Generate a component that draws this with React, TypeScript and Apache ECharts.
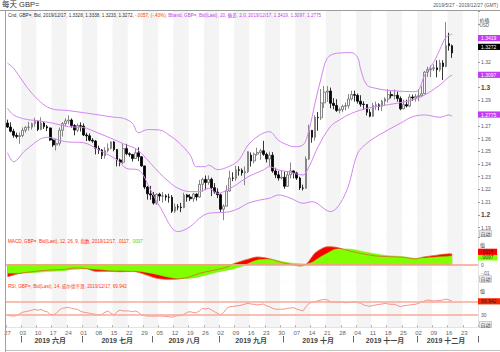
import React, { useEffect, useRef } from 'react';
import * as echarts from 'echarts';

const FAM = "'Liberation Sans', 'Noto Sans CJK SC', sans-serif";

// trading days 2019-05-27 .. 2019-12-27 (weekdays)
const categories: string[] = (() => {
  const out: string[] = [];
  for (let d = Date.UTC(2019, 4, 27); out.length < 155; d += 86400000) {
    const dt = new Date(d);
    const wd = dt.getUTCDay();
    if (wd === 0 || wd === 6) continue;
    out.push(dt.toISOString().slice(0, 10));
  }
  return out;
})();

const monthStartIdx = [5, 25, 48, 70, 91, 114, 135];
const monthLabelIdx = [14, 36, 58, 80, 102, 124, 144];
const monthLabels = ['2019 六月', '2019 七月', '2019 八月', '2019 九月', '2019 十月', '2019 十一月', '2019 十二月'];
// price tick labels hidden under the value boxes in the reference
const hiddenPriceTicks = [128, 131, 133, 134];

// [open, high, low, close]
const ohlc: number[][] = [
  [1.2722, 1.2748, 1.2683, 1.2690], [1.2690, 1.2727, 1.2649, 1.2657], [1.2657, 1.2676, 1.2607, 1.2625], [1.2625, 1.2646, 1.2600, 1.2616], [1.2616, 1.2648, 1.2558, 1.2623],
  [1.2623, 1.2687, 1.2610, 1.2665], [1.2665, 1.2697, 1.2646, 1.2688], [1.2688, 1.2731, 1.2662, 1.2689], [1.2689, 1.2725, 1.2670, 1.2718], [1.2718, 1.2763, 1.2693, 1.2735],
  [1.2735, 1.2736, 1.2658, 1.2671], [1.2671, 1.2767, 1.2665, 1.2722], [1.2722, 1.2730, 1.2675, 1.2693], [1.2693, 1.2707, 1.2658, 1.2683], [1.2683, 1.2687, 1.2582, 1.2588],
  [1.2588, 1.2601, 1.2534, 1.2550], [1.2550, 1.2599, 1.2506, 1.2562], [1.2562, 1.2686, 1.2542, 1.2665], [1.2665, 1.2728, 1.2615, 1.2717], [1.2717, 1.2759, 1.2695, 1.2738],
  [1.2738, 1.2783, 1.2711, 1.2745], [1.2745, 1.2758, 1.2685, 1.2702], [1.2702, 1.2713, 1.2625, 1.2666], [1.2666, 1.2718, 1.2650, 1.2701], [1.2701, 1.2727, 1.2655, 1.2697],
  [1.2697, 1.2718, 1.2620, 1.2628], [1.2628, 1.2646, 1.2580, 1.2621], [1.2621, 1.2640, 1.2578, 1.2587], [1.2587, 1.2603, 1.2566, 1.2580], [1.2580, 1.2588, 1.2475, 1.2524],
  [1.2524, 1.2544, 1.2479, 1.2510], [1.2510, 1.2518, 1.2439, 1.2466], [1.2466, 1.2532, 1.2442, 1.2505], [1.2505, 1.2561, 1.2491, 1.2523], [1.2523, 1.2578, 1.2514, 1.2573],
  [1.2573, 1.2580, 1.2500, 1.2514], [1.2514, 1.2517, 1.2381, 1.2432], [1.2432, 1.2443, 1.2382, 1.2414], [1.2414, 1.2559, 1.2399, 1.2521], [1.2521, 1.2558, 1.2469, 1.2481],
  [1.2481, 1.2492, 1.2457, 1.2475], [1.2475, 1.2476, 1.2420, 1.2443], [1.2443, 1.2520, 1.2440, 1.2488], [1.2488, 1.2531, 1.2422, 1.2457], [1.2457, 1.2461, 1.2378, 1.2385],
  [1.2385, 1.2386, 1.2203, 1.2219], [1.2219, 1.2228, 1.2120, 1.2166], [1.2166, 1.2228, 1.2119, 1.2157], [1.2157, 1.2181, 1.2081, 1.2093], [1.2093, 1.2170, 1.2080, 1.2163],
  [1.2163, 1.2174, 1.2111, 1.2148], [1.2148, 1.2181, 1.2097, 1.2150], [1.2150, 1.2162, 1.2112, 1.2141], [1.2141, 1.2167, 1.2097, 1.2139], [1.2139, 1.2156, 1.2015, 1.2030],
  [1.2030, 1.2090, 1.2015, 1.2064], [1.2064, 1.2085, 1.2037, 1.2062], [1.2062, 1.2095, 1.2022, 1.2058], [1.2058, 1.2174, 1.2053, 1.2156], [1.2156, 1.2165, 1.2105, 1.2141],
  [1.2141, 1.2164, 1.2110, 1.2127], [1.2127, 1.2174, 1.2102, 1.2164], [1.2164, 1.2170, 1.2113, 1.2141], [1.2141, 1.2274, 1.2135, 1.2240], [1.2240, 1.2292, 1.2183, 1.2279],
  [1.2279, 1.2310, 1.2195, 1.2255], [1.2255, 1.2310, 1.2237, 1.2280], [1.2280, 1.2293, 1.2148, 1.2214], [1.2214, 1.2250, 1.2166, 1.2180], [1.2180, 1.2209, 1.2132, 1.2159],
  [1.2159, 1.2168, 1.2024, 1.2045], [1.2045, 1.2084, 1.1959, 1.2069], [1.2069, 1.2232, 1.2065, 1.2188], [1.2188, 1.2348, 1.2182, 1.2290], [1.2290, 1.2335, 1.2265, 1.2288],
  [1.2288, 1.2385, 1.2268, 1.2355], [1.2355, 1.2382, 1.2309, 1.2350], [1.2350, 1.2365, 1.2308, 1.2330], [1.2330, 1.2381, 1.2234, 1.2340], [1.2340, 1.2500, 1.2329, 1.2496],
  [1.2470, 1.2491, 1.2380, 1.2424], [1.2424, 1.2490, 1.2404, 1.2477], [1.2477, 1.2528, 1.2465, 1.2490], [1.2490, 1.2519, 1.2433, 1.2504], [1.2504, 1.2582, 1.2464, 1.2476],
  [1.2476, 1.2490, 1.2412, 1.2440], [1.2440, 1.2497, 1.2381, 1.2469], [1.2469, 1.2493, 1.2331, 1.2345], [1.2345, 1.2370, 1.2289, 1.2315], [1.2315, 1.2345, 1.2270, 1.2290],
  [1.2290, 1.2350, 1.2280, 1.2296], [1.2296, 1.2340, 1.2206, 1.2225], [1.2225, 1.2343, 1.2220, 1.2315], [1.2315, 1.2412, 1.2287, 1.2346], [1.2346, 1.2350, 1.2286, 1.2330],
  [1.2330, 1.2339, 1.2275, 1.2290], [1.2290, 1.2300, 1.2196, 1.2212], [1.2212, 1.2238, 1.2192, 1.2210], [1.2210, 1.2460, 1.2205, 1.2440], [1.2440, 1.2709, 1.2431, 1.2665],
  [1.2665, 1.2667, 1.2567, 1.2610], [1.2610, 1.2783, 1.2583, 1.2766], [1.2766, 1.2808, 1.2661, 1.2763], [1.2763, 1.2988, 1.2745, 1.2880], [1.2880, 1.3013, 1.2840, 1.2965],
  [1.2965, 1.3012, 1.2887, 1.2973], [1.2973, 1.3000, 1.2837, 1.2877], [1.2877, 1.2917, 1.2829, 1.2860], [1.2860, 1.2909, 1.2809, 1.2820], [1.2820, 1.2844, 1.2798, 1.2828],
  [1.2828, 1.2866, 1.2806, 1.2853], [1.2853, 1.2883, 1.2820, 1.2858], [1.2858, 1.2949, 1.2836, 1.2910], [1.2910, 1.2976, 1.2898, 1.2945], [1.2945, 1.2976, 1.2890, 1.2939],
  [1.2939, 1.2953, 1.2875, 1.2893], [1.2893, 1.2940, 1.2850, 1.2870], [1.2870, 1.2892, 1.2824, 1.2867], [1.2867, 1.2870, 1.2781, 1.2806], [1.2806, 1.2831, 1.2767, 1.2775],
  [1.2775, 1.2880, 1.2770, 1.2860], [1.2860, 1.2890, 1.2825, 1.2865], [1.2865, 1.2877, 1.2820, 1.2852], [1.2852, 1.2904, 1.2815, 1.2893], [1.2893, 1.2924, 1.2857, 1.2910],
  [1.2910, 1.2988, 1.2883, 1.2945], [1.2945, 1.2970, 1.2915, 1.2936], [1.2936, 1.2985, 1.2907, 1.2939], [1.2939, 1.2969, 1.2890, 1.2915], [1.2915, 1.2930, 1.2822, 1.2833],
  [1.2833, 1.2905, 1.2830, 1.2866], [1.2866, 1.2905, 1.2844, 1.2855], [1.2855, 1.2948, 1.2847, 1.2926], [1.2926, 1.2945, 1.2895, 1.2918], [1.2918, 1.2950, 1.2890, 1.2930],
  [1.2930, 1.2986, 1.2893, 1.2936], [1.2936, 1.3013, 1.2924, 1.2952], [1.2952, 1.3130, 1.2949, 1.3121], [1.3121, 1.3164, 1.3083, 1.3140], [1.3140, 1.3174, 1.3082, 1.3148],
  [1.3148, 1.3183, 1.3130, 1.3155], [1.3155, 1.3214, 1.3080, 1.3140], [1.3140, 1.3218, 1.3125, 1.3193], [1.3193, 1.3215, 1.3060, 1.3165], [1.3165, 1.3514, 1.3160, 1.3330],
  [1.3345, 1.3430, 1.3290, 1.3329], [1.3328, 1.3338, 1.3233, 1.3272],
];

// Bollinger band (20, 2.0) read at [dayIndex, value]
const bbUpper: number[][] = [
  [0, 1.3191], [2, 1.3151], [8, 1.2955], [14, 1.2837], [20, 1.2819], [25, 1.2803], [30, 1.2785], [35, 1.2767], [38, 1.2759], [41, 1.2720],
  [43, 1.2645], [46, 1.2670], [50, 1.2667], [53, 1.2628], [56, 1.2575], [60, 1.2470], [62, 1.2379], [65, 1.2379], [66, 1.2392], [69, 1.2355],
  [73, 1.2384], [76, 1.2432], [79, 1.2549], [83, 1.2630], [86, 1.2654], [89, 1.2585], [92, 1.2549], [94, 1.2536], [97, 1.2549], [99, 1.2667],
  [101, 1.2880], [103, 1.3075], [105, 1.3230], [108, 1.3269], [113, 1.3274], [115, 1.3235], [116, 1.3140], [118, 1.3020], [121, 1.2994], [124, 1.2981],
  [128, 1.2973], [133, 1.2968], [135, 1.2981], [137, 1.3100], [140, 1.3200], [142, 1.3300], [144, 1.3395], [146, 1.3419],
];
const bbMid: number[][] = [
  [0, 1.2837], [2, 1.2785], [6, 1.2751], [10, 1.2740], [15, 1.2720], [20, 1.2693], [24, 1.2688], [26, 1.2680], [30, 1.2641], [34, 1.2602],
  [39, 1.2549], [42, 1.2523], [44, 1.2484], [47, 1.2405], [50, 1.2327], [53, 1.2261], [56, 1.2209], [60, 1.2183], [63, 1.2183], [66, 1.2209],
  [69, 1.2170], [71, 1.2183], [75, 1.2235], [79, 1.2300], [84, 1.2353], [86, 1.2379], [89, 1.2353], [92, 1.2340], [97, 1.2314], [99, 1.2379],
  [102, 1.2536], [106, 1.2693], [109, 1.2746], [113, 1.2798], [118, 1.2837], [122, 1.2855], [128, 1.2877], [133, 1.2903], [137, 1.2942], [142, 1.3020],
  [145, 1.3085], [146, 1.3097],
];
const bbLower: number[][] = [
  [0, 1.2489], [2, 1.2418], [6, 1.2510], [13, 1.2610], [19, 1.2575], [25, 1.2567], [30, 1.2510], [36, 1.2432], [39, 1.2366], [43, 1.2353],
  [47, 1.2196], [50, 1.2065], [56, 1.1869], [60, 1.1908], [63, 1.1974], [66, 1.2013], [69, 1.2018], [73, 1.2026], [76, 1.2052], [79, 1.2092],
  [83, 1.2118], [86, 1.2131], [89, 1.2157], [93, 1.2131], [97, 1.2092], [100, 1.2104], [106, 1.2026], [111, 1.2170], [115, 1.2484], [118, 1.2563],
  [122, 1.2628], [129, 1.2720], [133, 1.2771], [137, 1.2785], [142, 1.2767], [145, 1.2785], [146, 1.2775],
];

// MACD (12, 26, 9) read at [dayIndex, value]
const macdLine: number[][] = [
  [0, -0.0137], [4, -0.0100], [8, -0.0081], [14, -0.0062], [19, -0.0054], [22, -0.0039], [26, -0.0047], [29, -0.0077], [33, -0.0077], [37, -0.0081],
  [41, -0.0077], [44, -0.0099], [49, -0.0155], [53, -0.0167], [56, -0.0163], [60, -0.0137], [63, -0.0099], [68, -0.0062], [72, -0.0030], [74, 0.0005],
  [77, 0.0040], [79, 0.0060], [82, 0.0085], [86, 0.0066], [88, 0.0043], [90, 0.0021], [93, 0.0002], [96, -0.0017], [98, 0.0000], [100, 0.0088],
  [101, 0.0130], [103, 0.0175], [105, 0.0200], [108, 0.0193], [112, 0.0155], [117, 0.0118], [121, 0.0096], [125, 0.0088], [130, 0.0081], [134, 0.0062],
  [136, 0.0080], [141, 0.0105], [145, 0.0120], [146, 0.0117],
];
const signalLine: number[][] = [
  [0, -0.0099], [4, -0.0097], [8, -0.0092], [14, -0.0077], [19, -0.0066], [22, -0.0054], [26, -0.0047], [29, -0.0054], [33, -0.0066], [37, -0.0069],
  [41, -0.0073], [44, -0.0081], [49, -0.0111], [53, -0.0144], [56, -0.0159], [60, -0.0155], [63, -0.0137], [68, -0.0092], [72, -0.0065], [74, -0.0050],
  [77, -0.0020], [79, 0.0010], [82, 0.0050], [86, 0.0058], [88, 0.0050], [90, 0.0035], [93, 0.0017], [96, 0.0008], [98, 0.0005], [100, 0.0024],
  [101, 0.0045], [103, 0.0090], [105, 0.0126], [108, 0.0175], [112, 0.0174], [117, 0.0144], [121, 0.0118], [125, 0.0099], [130, 0.0088], [134, 0.0070],
  [136, 0.0072], [141, 0.0085], [145, 0.0094], [146, 0.0097],
];

// RSI (14) read at [dayIndex, value]
const rsiLine: number[][] = [
  [0, 30], [1, 27.5], [2, 27], [3, 28], [4, 34], [5, 38], [6, 40], [7, 41.7], [8, 44], [9, 46.6], [10, 43.7], [11, 46.6], [12, 41.7], [13, 39.6], [14, 32],
  [15, 30], [16, 35], [17, 44.6], [18, 49.6], [19, 51], [20, 52.5], [21, 49.6], [22, 47.5], [23, 46.6], [24, 41], [25, 37.9], [26, 37], [27, 35], [28, 33], [29, 32],
  [30, 30], [31, 32], [32, 37.9], [33, 41.7], [34, 35], [35, 30], [36, 39.6], [37, 44.6], [38, 41.7], [39, 42], [40, 41.7], [41, 39.6], [42, 41.7], [43, 37.9], [44, 30],
  [45, 28], [46, 27], [47, 27], [48, 26.5], [49, 27], [50, 27], [51, 27], [52, 26], [53, 25], [54, 23.3], [55, 27], [56, 28], [57, 28.5], [58, 32], [59, 37.9],
  [60, 39.6], [61, 37], [62, 36.7], [63, 41.7], [64, 49.6], [65, 47.5], [66, 49.6], [67, 44.6], [68, 39.6], [69, 35], [70, 30.5], [71, 37.9], [72, 49.6], [73, 54.2], [74, 55],
  [75, 56.3], [76, 57.5], [77, 59.2], [78, 62], [79, 64.2], [80, 62], [81, 61.2], [82, 59.2], [83, 60.5], [84, 62.1], [85, 57], [86, 54.2], [87, 49.6], [88, 47], [89, 46.6],
  [90, 47], [91, 47.5], [92, 49.6], [93, 50.5], [94, 51.3], [95, 47], [96, 44.6], [97, 41.7], [98, 54.2], [99, 64.2], [100, 66.9], [101, 68.8], [102, 72], [103, 73.8], [104, 75.8],
  [105, 73.8], [106, 68.8], [107, 67.5], [108, 66.9], [109, 68.8], [110, 67], [111, 65.9], [112, 66.5], [113, 66.9], [114, 68.8], [115, 66], [116, 64.2], [117, 59], [118, 57.2], [119, 55.4],
  [120, 58], [121, 59.2], [122, 61], [123, 62.1], [124, 64.2], [125, 62], [126, 61.2], [127, 61.2], [128, 58], [129, 54.2], [130, 57.2], [131, 58], [132, 59.2], [133, 60.5], [134, 61.2],
  [135, 64.2], [136, 68], [137, 70.9], [138, 73.8], [139, 72.5], [140, 70.9], [141, 71.8], [142, 72.5], [143, 73.8], [144, 76.7], [145, 73.8], [146, 69.942],
];
const rsiLevels = [70, 30];

const fmtShort = (x: number, d: number) => (x < 0 ? '-' : '') + Math.abs(x).toFixed(d).replace(/^0/, '');
const lastBar = ohlc[ohlc.length - 1];
const prevClose = ohlc[ohlc.length - 2][3];
const chg = lastBar[3] - prevClose;
const pct = (chg / prevClose) * 100;
const lastDate = categories[ohlc.length - 1].replace(/-/g, '/');
const lastU = bbUpper[bbUpper.length - 1][1];
const lastM = bbMid[bbMid.length - 1][1];
const lastL = bbLower[bbLower.length - 1][1];
const lastMacd = macdLine[macdLine.length - 1][1];
const lastSig = signalLine[signalLine.length - 1][1];
const lastRsi = rsiLine[rsiLine.length - 1][1];

const infoA = `Cnd, GBP=, Bid, ${lastDate}, ${lastBar.map((v) => v.toFixed(4)).join(', ')}, `;
const infoB = `${fmtShort(chg, 4)}, (${fmtShort(pct, 2)}%), `;
const infoC = `Bband, GBP=, Bid(Last), 20, 偏差, 2.0, ${lastDate}, ${lastU.toFixed(4)}, ${lastM.toFixed(4)}, ${lastL.toFixed(4)}`;
const macdText = `MACD, GBP=, Bid(Last), 12, 26, 9, 指数, ${lastDate}, ${fmtShort(lastMacd, 4)}, `;
const rsiText = `RSI, GBP=, Bid(Last), 14, 威尔德平滑, ${lastDate}, ${lastRsi.toFixed(3)}`;

const BB_COLOR = '#d385f2';
const BOX_PURPLE = '#c43cf2';

const valueBox = (value: number, text: string, bg: string, fg: string, extra: any = {}) => ({
  yAxis: value,
  lineStyle: { width: 0, color: 'rgba(0,0,0,0)', opacity: 1 },
  label: {
    show: true, position: 'end', distance: 0, formatter: text, fontSize: 5, fontFamily: FAM,
    color: fg, backgroundColor: bg, padding: [0.6, 4, 0.6, 3], opacity: 1, ...extra,
  },
});

const dayAxis = (gridIndex: number, extra: any = {}) => ({
  type: 'category', data: categories, gridIndex, boundaryGap: true,
  axisLine: { show: false }, axisTick: { show: false }, axisLabel: { show: false },
  splitLine: { show: false },
  splitArea: { show: true, interval: 4, areaStyle: { color: ['#ffffff', '#f4f4f4'] } },
  ...extra,
});

const txt = (text: string, x: number, y: number, size: number, fill: string, extra: any = {}) => ({
  type: 'text', x, y, z: 100,
  style: { text, fontSize: size, fontFamily: FAM, fill, verticalAlign: 'middle', textVerticalAlign: 'middle', ...extra },
});
const autoBox = (y: number) => txt('自动', 479.5, y, 5, '#444', { backgroundColor: '#ececec', borderColor: '#a8a8a8', borderWidth: 0.5, padding: [0.5, 1] });

const option: any = {
  animation: false,
  textStyle: { fontFamily: FAM },
  grid: [
    { left: 6, right: 22, top: 11, height: 226, show: true, borderColor: '#c8c8c8', borderWidth: 1, containLabel: false, outerBoundsMode: 'none' },
    { left: 6, right: 22, top: 237, height: 44.5, show: true, borderColor: '#c8c8c8', borderWidth: 1, containLabel: false, outerBoundsMode: 'none' },
    { left: 6, right: 22, top: 281.5, height: 45.5, show: true, borderColor: '#c8c8c8', borderWidth: 1, containLabel: false, outerBoundsMode: 'none' },
  ],
  xAxis: [
    dayAxis(0),
    dayAxis(1),
    dayAxis(2, {
      axisTick: { show: true, interval: (i: number) => i % 5 === 0, length: 2, lineStyle: { color: '#aaaaaa' } },
      axisLabel: { show: true, interval: (i: number) => i % 5 === 0, formatter: (v: string) => v.slice(8), fontSize: 6, color: '#666666', margin: 3 },
    }),
    {
      type: 'category', data: categories, gridIndex: 2, position: 'bottom', offset: 9, boundaryGap: true,
      axisLine: { show: false },
      axisTick: { show: true, interval: (i: number) => monthStartIdx.includes(i), length: 6.5, lineStyle: { color: '#666666' } },
      axisLabel: {
        show: true, interval: (i: number) => monthLabelIdx.includes(i),
        formatter: (_v: string, i: number) => monthLabels[monthLabelIdx.indexOf(i)] || '',
        fontSize: 7, color: '#444444', fontWeight: 'bold', margin: 0.5,
      },
      splitLine: { show: false }, splitArea: { show: false },
    },
  ],
  yAxis: [
    {
      type: 'value', gridIndex: 0, position: 'right', min: 1.1827, max: 1.3601, minInterval: 0.01, maxInterval: 0.01, splitNumber: 17,
      axisLine: { show: false },
      axisTick: { show: true, length: 2, lineStyle: { color: '#999999' } },
      axisLabel: {
        margin: 3, fontSize: 5, color: '#555555',
        formatter: (v: number) => {
          if (v < 1.185 || v > 1.345) return '';
          const n = Math.round(v * 100);
          if (hiddenPriceTicks.includes(n)) return '';
          const s = String(n / 100);
          return n % 10 === 0 ? `{b|${s}}` : s;
        },
        rich: { b: { fontSize: 6.5, fontWeight: 'bold', color: '#444444' } },
      },
      splitLine: { show: true, lineStyle: { color: '#e6e6e6', width: 1 } },
    },
    {
      type: 'value', gridIndex: 1, position: 'right', min: -0.0191, max: 0.0309, minInterval: 0.01, maxInterval: 0.01,
      axisLine: { show: false }, axisTick: { show: false },
      axisLabel: {
        margin: 3, fontSize: 5, color: '#555555',
        formatter: (v: number) => (Math.abs(v) < 1e-9 ? '0' : Math.abs(v + 0.01) < 1e-9 ? '-.01' : ''),
      },
      splitLine: { show: true, lineStyle: { color: '#efefef' } },
    },
    {
      type: 'value', gridIndex: 2, position: 'right', min: -5.04, max: 127.8, minInterval: 10, maxInterval: 10,
      axisLine: { show: false }, axisTick: { show: false },
      axisLabel: { margin: 3, fontSize: 5, color: '#555555', formatter: (v: number) => (v === 30 ? '30' : '') },
      splitLine: { show: false },
    },
  ],
  series: [
    {
      type: 'candlestick', xAxisIndex: 0, yAxisIndex: 0,
      data: ohlc.map(([o, h, l, c]) => [o, c, l, h]),
      barWidth: 2.2,
      itemStyle: { color: '#f6f6f6', color0: '#000000', borderColor: '#6a6a6a', borderColor0: '#000000', borderWidth: 0.8 },
      markLine: { symbol: ['none', 'none'], silent: true, data: [valueBox(lastBar[3], lastBar[3].toFixed(4), '#000000', '#ffffff', { offset: [0, -2.5] })] },
    },
    {
      type: 'line', xAxisIndex: 0, yAxisIndex: 0, data: bbUpper, showSymbol: false, smooth: 0.35,
      lineStyle: { color: BB_COLOR, width: 1 },
      markLine: { symbol: ['none', 'none'], silent: true, data: [valueBox(lastU, lastU.toFixed(4), BOX_PURPLE, '#ffffff', { offset: [0, 1.5] })] },
    },
    {
      type: 'line', xAxisIndex: 0, yAxisIndex: 0, data: bbMid, showSymbol: false, smooth: 0.35,
      lineStyle: { color: BB_COLOR, width: 1 },
      markLine: { symbol: ['none', 'none'], silent: true, data: [valueBox(lastM, lastM.toFixed(4), BOX_PURPLE, '#ffffff')] },
    },
    {
      type: 'line', xAxisIndex: 0, yAxisIndex: 0, data: bbLower, showSymbol: false, smooth: 0.35,
      lineStyle: { color: BB_COLOR, width: 1 },
      markLine: { symbol: ['none', 'none'], silent: true, data: [valueBox(lastL, lastL.toFixed(4), BOX_PURPLE, '#ffffff', { offset: [0, 1.5] })] },
    },
    {
      type: 'line', xAxisIndex: 1, yAxisIndex: 1, data: macdLine, showSymbol: false, smooth: 0.3,
      lineStyle: { width: 0, color: '#ff0000' }, areaStyle: { color: '#ff0000', opacity: 1 },
    },
    {
      type: 'line', xAxisIndex: 1, yAxisIndex: 1, data: signalLine, showSymbol: false, smooth: 0.3,
      lineStyle: { width: 0.5, color: '#74e600' }, areaStyle: { color: '#80ff00', opacity: 1 },
      markLine: { symbol: ['none', 'none'], silent: true, data: [valueBox(lastSig, fmtShort(lastSig, 4), '#80ff00', '#333333', { offset: [0, 1.8] })] },
    },
    {
      type: 'line', xAxisIndex: 1, yAxisIndex: 1, data: macdLine, showSymbol: false, smooth: 0.3,
      lineStyle: { width: 0.8, color: '#d9662a' },
      markLine: {
        symbol: ['none', 'none'], silent: true,
        data: [
          { yAxis: 0, lineStyle: { color: '#f9a090', width: 1.5, type: 'solid' }, label: { show: false } },
          valueBox(lastMacd, fmtShort(lastMacd, 4), '#ff0000', '#222222', { offset: [0, -3.8] }),
        ],
      },
    },
    {
      type: 'line', xAxisIndex: 2, yAxisIndex: 2, data: rsiLine, showSymbol: false,
      lineStyle: { width: 0.8, color: '#f47a68' },
      markLine: {
        symbol: ['none', 'none'], silent: true,
        data: [
          ...rsiLevels.map((lv) => ({ yAxis: lv, lineStyle: { color: '#f9a99a', width: 1.5, type: 'solid' }, label: { show: false } })),
          valueBox(lastRsi, lastRsi.toFixed(3), '#ff2200', '#222222'),
        ],
      },
    },
  ],
  graphic: [
    { type: 'line', z: 100, shape: { x1: 0, y1: 10.5, x2: 500, y2: 10.5 }, style: { stroke: '#9c9c9c', lineWidth: 1 } },
    { type: 'line', z: 100, shape: { x1: 5.5, y1: 10.5, x2: 5.5, y2: 352 }, style: { stroke: '#a0a0a0', lineWidth: 1 } },
    { type: 'line', z: 100, shape: { x1: 5.5, y1: 350.5, x2: 500, y2: 350.5 }, style: { stroke: '#c0c0c0', lineWidth: 1 } },
    txt('每天 GBP=', 2, 4.2, 7.5, '#333333'),
    txt('2019/5/27 - 2019/12/27 (GMT)', 498, 5.8, 4.8, '#555555', { align: 'right', textAlign: 'right' }),
    {
      type: 'text', x: 8, y: 15.3, z: 100,
      style: {
        text: `{a|${infoA}}{r|${infoB}}{p|${infoC}}`,
        fontSize: 4.6, fontFamily: FAM, verticalAlign: 'middle', textVerticalAlign: 'middle',
        rich: {
          a: { fill: '#333333', fontSize: 4.6, fontFamily: FAM },
          r: { fill: '#ff3a10', fontSize: 4.6, fontFamily: FAM },
          p: { fill: '#c040f0', fontSize: 4.6, fontFamily: FAM },
        },
      },
    },
    {
      type: 'text', x: 8, y: 241.2, z: 100,
      style: {
        text: `{r|${macdText}}{g|${fmtShort(lastSig, 4)}}`,
        fontSize: 4.6, fontFamily: FAM, verticalAlign: 'middle', textVerticalAlign: 'middle',
        rich: {
          r: { fill: '#ff2a10', fontSize: 4.6, fontFamily: FAM },
          g: { fill: '#66cc00', fontSize: 4.6, fontFamily: FAM },
        },
      },
    },
    txt(rsiText, 8, 286.7, 4.6, '#ff3a10'),
    txt('价格', 479.5, 20, 5, '#333333'),
    txt('USD', 479.5, 25.6, 4.5, '#555555'),
    autoBox(233.5),
    txt('值', 480, 245, 5, '#333333'),
    autoBox(279),
    txt('值', 480, 291, 5, '#333333'),
    autoBox(324.5),
  ],
};

export default function App() {
  const ref = useRef<HTMLDivElement>(null);
  useEffect(() => {
    document.body.style.margin = '0';
    const chart = echarts.init(ref.current as HTMLDivElement, undefined, { renderer: 'svg' });
    chart.setOption(option);
    return () => chart.dispose();
  }, []);
  return <div ref={ref} style={{ position: 'fixed', left: 0, top: 0, width: 500, height: 352, background: '#ffffff' }} />;
}
